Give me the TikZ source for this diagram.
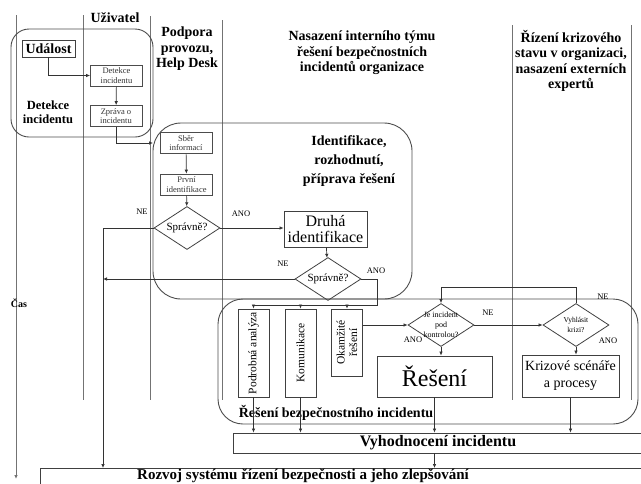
\documentclass[tikz,border=0pt]{standalone}
\usepackage{fontspec}
\setmainfont{Liberation Serif}
\usetikzlibrary{shapes.geometric,arrows.meta}

\tikzset{
  lane/.style={draw=black!55, line width=0.8pt},
  oblast/.style={draw=black!70, line width=0.9pt},
  hlava/.style={font=\bfseries\fontsize{14}{15.5}\selectfont, align=center, inner sep=0pt},
  malybox/.style={draw=black!70, line width=0.7pt, align=center, inner sep=0pt,
    minimum width=52pt, minimum height=21pt, font=\fontsize{8.5}{9.5}\selectfont, text=black!80},
  ramec/.style={draw=black!75, line width=0.8pt, align=center, inner sep=0pt},
  svislybox/.style={ramec, rotate=90, minimum height=31pt, font=\fontsize{11.5}{12.5}\selectfont},
  rozhod/.style={diamond, draw=black!75, line width=0.8pt, inner sep=0pt,
    minimum width=66pt, minimum height=43pt},
  dtext/.style={font=\fontsize{11}{12}\selectfont, align=center, inner sep=0pt},
  popis/.style={font=\fontsize{8.5}{9.5}\selectfont, inner sep=0pt},
  sipka/.style={draw=black!80, line width=0.7pt, -{Latex[length=4pt,width=3.5pt]}},
  cara/.style={draw=black!80, line width=0.7pt},
}

\begin{document}
\begin{tikzpicture}[x=1pt,y=-1pt]
\useasboundingbox (0,0) rectangle (641,483);

% ===== draha casu a plavecke drahy =====
\draw[lane,-{Latex[length=4pt,width=3.5pt]}] (16,15) -- (16,479);
\foreach \x/\y in {83/15,150/16,222/20,512/25,631/25}
  \draw[lane] (\x,\y) -- (\x,400);
\node[font=\bfseries\fontsize{10}{12}\selectfont, inner sep=0pt] (cas) at (19,303) {Čas};

% ===== hlavicky =====
\node[hlava] (uzivatel) at (115,18) {Uživatel};
\node[hlava] (podpora) at (187,49) {Podpora\\provozu,\\Help Desk};
\node[hlava] (tym) at (362,53) {Nasazení interního týmu\\řešení bezpečnostních\\incidentů organizace};
\node[hlava] (krizhl) at (571,61) {Řízení krizového\\stavu v organizaci,\\nasazení externích\\expertů};

% ===== detekce incidentu =====
\draw[oblast, rounded corners=18pt] (11,29) rectangle (153,137);
\node[ramec, font=\bfseries\fontsize{14}{16}\selectfont, minimum width=53pt, minimum height=17pt] (udalost) at (48.5,48.5) {Událost};
\node[font=\bfseries\fontsize{12.5}{13.5}\selectfont, align=center, inner sep=0pt] (detekcelbl) at (48,112) {Detekce\\incidentu};
\node[malybox] (detekce) at (116.5,75.5) {Detekce\\incidentu};
\node[malybox] (zprava) at (116,116) {Zpráva o\\incidentu};
\coordinate (vstup) at (153,143);

% ===== identifikace =====
\draw[oblast, rounded corners=28pt] (153,123) rectangle (412,299);
\node[font=\bfseries\fontsize{14}{19}\selectfont, align=center, inner sep=0pt] (identlbl) at (349,161) {Identifikace,\\rozhodnutí,\\příprava řešení};
\node[malybox] (sber) at (186,143) {Sběr\\informací};
\node[malybox] (prvni) at (186.5,184.5) {První\\identifikace};
\node[rozhod] (spr1) at (187,228) {};
\node[dtext] (spr1t) at (spr1) {Správně?};
\node[popis] (ne1) at (142,212) {NE};
\node[popis] (ano1) at (241,214) {ANO};
\node[ramec, font=\fontsize{16}{16}\selectfont, minimum width=83pt, minimum height=36pt] (druha) at (325.5,229) {Druhá\\identifikace};
\node[rozhod] (spr2) at (328,279) {};
\node[dtext] (spr2t) at (spr2) {Správně?};
\node[popis] (ne2) at (283,264) {NE};
\node[popis] (ano2) at (376,271) {ANO};

% ===== reseni bezpecnostniho incidentu =====
\draw[oblast, rounded corners=25pt] (218,299) rectangle (638,424);
\node[font=\bfseries\fontsize{14}{16}\selectfont, inner sep=0pt] (resenilbl) at (336,413) {Řešení bezpečnostního incidentu};
\node[svislybox, minimum width=88pt] (podrobna) at (253.5,353) {Podrobná analýza};
\node[svislybox, minimum width=88pt] (komunikace) at (300.5,353) {Komunikace};
\node[svislybox, minimum width=67pt] (okamzite) at (347,342.5) {Okamžité\\řešení};
\node[rozhod] (kontrola) at (441,325) {};
\node[dtext, font=\fontsize{8}{10}\selectfont] (kontrolat) at (kontrola) {Je incident\\pod\\kontrolou?};
\node[ramec, font=\fontsize{24}{26}\selectfont, minimum width=115pt, minimum height=41pt] (reseni) at (434.5,376.5) {Řešení};
\node[rozhod] (krize) at (576,325) {};
\node[dtext, font=\fontsize{7.5}{9.5}\selectfont] (krizet) at (krize) {Vyhlásit\\krizi?};
\node[ramec, font=\fontsize{14}{17}\selectfont, minimum width=97pt, minimum height=42pt] (krizove) at (570.5,376) {Krizové scénáře\\a procesy};
\node[popis] (ne3) at (488,313) {NE};
\node[popis] (ano3) at (413,340) {ANO};
\node[popis] (ne4) at (603,297) {NE};
\node[popis] (ano4) at (608,341) {ANO};

% ===== vyhodnoceni a rozvoj =====
\node[ramec, font=\bfseries\fontsize{16}{18}\selectfont, minimum width=410pt, minimum height=20pt] (vyhodnoceni) at (438,443) {Vyhodnocení incidentu};
\node[ramec, anchor=north west, minimum width=610pt, minimum height=25pt] (rozvoj) at (40,468) {};
\node[font=\bfseries\fontsize{15}{17}\selectfont, inner sep=0pt] (rozvojt) at (303,476) {Rozvoj systému řízení bezpečnosti a jeho zlepšování};

% ===== spojnice =====
\coordinate (nekonec) at (103,468);
\coordinate (rozcesti) at (377,305);
\draw[sipka] (udalost.south) |- (detekce.west);
\draw[sipka] (detekce) -- (zprava);
\draw[sipka] (zprava.south) |- (vstup);
\draw[sipka] (sber) -- (prvni);
\draw[sipka] (prvni) -- (spr1);
\draw[sipka] (spr1.east) -- (spr1.east -| druha.west);
\draw[sipka] (spr1.west) -| (nekonec);
\draw[sipka] (druha) -- (spr2);
\draw[sipka] (spr2.west) -- (spr2.west -| nekonec);
\draw[cara] (spr2.east) -| (rozcesti) -- (rozcesti -| podrobna.east);
\foreach \b in {podrobna,komunikace,okamzite}
  \draw[sipka] (rozcesti -| \b.east) -- (\b.east);
\draw[sipka] (okamzite.south |- kontrola.west) -- (kontrola.west);
\draw[sipka] (kontrola.east) -- (krize.west);
\draw[sipka] (krize.north) -- ++(0,-16) -| (kontrola.north);
\draw[sipka] (kontrola.south) -- (kontrola.south |- reseni.north);
\draw[sipka] (krize.south) -- (krize.south |- krizove.north);
\draw[sipka] (podrobna.west) -- (podrobna.west |- vyhodnoceni.north);
\draw[sipka] (komunikace.west) -- (komunikace.west |- vyhodnoceni.north);
\draw[sipka] (reseni.south) -- (reseni.south |- vyhodnoceni.north);
\draw[sipka] (krizove.south) -- (krizove.south |- vyhodnoceni.north);
\draw[sipka] (reseni.south |- vyhodnoceni.south) -- (reseni.south |- rozvoj.north);

\end{tikzpicture}
\end{document}
